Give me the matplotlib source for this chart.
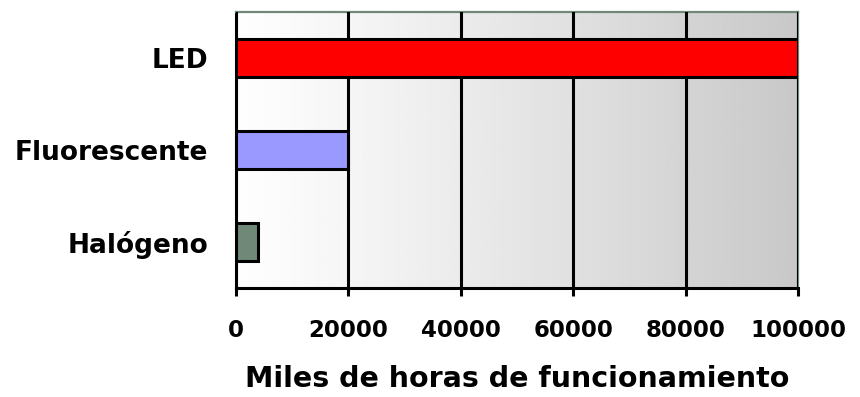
import matplotlib
matplotlib.use("Agg")
import matplotlib.pyplot as plt
import numpy as np

# datos
lamparas = ["Halógeno", "Fluorescente", "LED"]
horas = [4000, 20000, 100000]
colores = ["#708878", "#9999ff", "#ff0000"]
ticks_x = [0, 20000, 40000, 60000, 80000, 100000]

plt.rcParams['font.family'] = ['DejaVu Sans']
plt.rcParams['font.weight'] = 'bold'

fig = plt.figure(figsize=(8.6, 3.97), dpi=100)
ax = fig.add_axes([236 / 860, 109 / 397, 562 / 860, 276 / 397])

# fondo degradado de blanco a gris
t = np.linspace(0, 1, 256)
grad = (0.995 - 0.21 * t ** 1.15).reshape(1, -1)
ax.imshow(grad, extent=[0, 1, 0, 1], transform=ax.transAxes, cmap='gray',
          vmin=0, vmax=1, aspect='auto', zorder=0)

ax.barh(lamparas, horas, height=0.41, color=colores, edgecolor='black',
        linewidth=2.2, zorder=3)

ax.set_xlim(0, 100000)
ax.set_ylim(-0.5, 2.5)
ax.set_xticks(ticks_x)
ax.set_xticklabels([str(t) for t in ticks_x], fontsize=16.5, fontweight='bold')
ax.tick_params(axis='x', length=6, width=2.2, direction='out', pad=16)
ax.tick_params(axis='y', length=0, pad=20, labelsize=19)
for lab in ax.get_yticklabels():
    lab.set_fontweight('bold')

ax.grid(axis='x', color='black', linewidth=2.2, zorder=2)
ax.set_axisbelow(False)

ax.spines['left'].set_color('black')
ax.spines['left'].set_linewidth(2.2)
ax.spines['bottom'].set_color('black')
ax.spines['bottom'].set_linewidth(2.2)
ax.spines['top'].set_color('#708878')
ax.spines['top'].set_linewidth(1.6)
ax.spines['right'].set_color('#708878')
ax.spines['right'].set_linewidth(1.6)

ax.set_xlabel("Miles de horas de funcionamiento", fontsize=20.5,
              fontweight='bold', labelpad=17)

fig.savefig("out.png", dpi=100)
